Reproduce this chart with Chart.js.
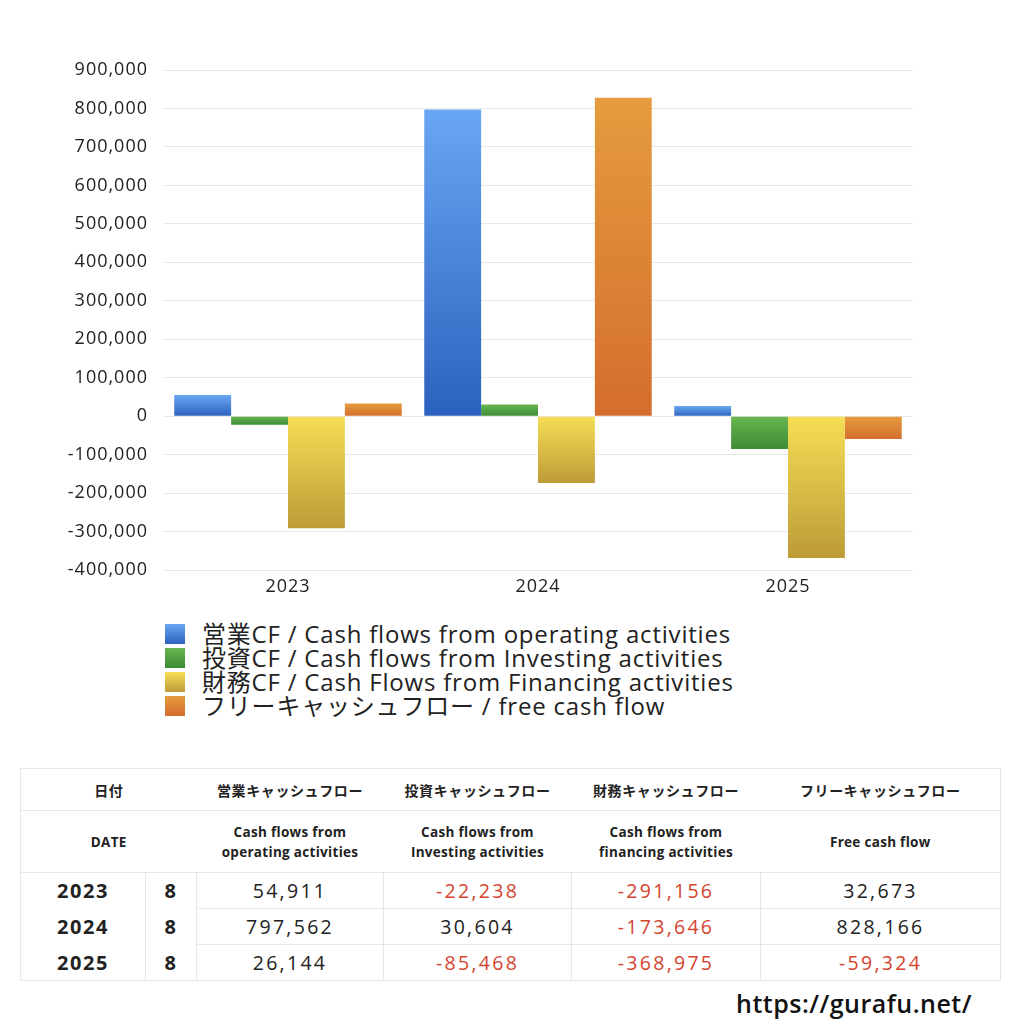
<!DOCTYPE html>
<html lang="ja">
<head>
<meta charset="utf-8">
<script src="https://cdn.jsdelivr.net/npm/chart.js@4/dist/chart.umd.min.js"></script>
<style>
  html, body { margin: 0; padding: 0; background: #fff; }
  body { width: 1024px; height: 1024px; position: relative; overflow: hidden;
         font-family: "Open Sans", "Noto Sans CJK JP", sans-serif; color: #222; }
  #wrap { position: absolute; left: 0; top: 0; width: 1024px; height: 600px; }
  #legend { position: absolute; left: 165px; top: 622px; }
  #legend .item { display: flex; align-items: center; height: 24px; font-size: 24px; line-height: 24px;
                  letter-spacing: 0.8px; color: #222; white-space: nowrap; }
  #legend .box { width: 20px; height: 20px; margin-right: 17px; flex: none; }
  table { position: absolute; left: 20px; top: 768px; width: 980px; border-collapse: collapse;
          border: 1px solid #e6e6e6; table-layout: fixed; }
  th, td { padding: 0; }
  th { font-size: 14px; font-weight: bold; color: #222; text-align: center; border-bottom: 1px solid #e6e6e6; letter-spacing: 0.6px; }
  tr.h1 th { height: 41px; }
  tr.h2 th { height: 61px; line-height: 20px; font-size: 13.5px; letter-spacing: 0.3px; }
  td { height: 35px; font-size: 19.5px; text-align: center; color: #222; letter-spacing: 2.3px; }
  td.val { border: 1px solid #e6e6e6; }
  td.yr, td.mo { font-weight: bold; font-size: 20px; letter-spacing: 1.6px; }
  td.mo { border-left: 1px solid #e6e6e6; }
  td.neg { color: #d4452f; }
  #site { position: absolute; left: 736px; top: 986px; font-size: 25px; font-weight: 600; color: #111;
          letter-spacing: 0.5px; }
</style>
</head>
<body>
<div id="wrap"><canvas id="chart" width="1024" height="600"></canvas></div>
<div id="legend"></div>
<table id="tbl"></table>
<div id="site">https://gurafu.net/</div>
<script>
const years = ['2023', '2024', '2025'];
const month = ['8', '8', '8'];
const operatingCF = [54911, 797562, 26144];
const investingCF = [-22238, 30604, -85468];
const financingCF = [-291156, -173646, -368975];
const freeCF = [32673, 828166, -59324];

const seriesNames = [
  '営業CF / Cash flows from operating activities',
  '投資CF / Cash flows from Investing activities',
  '財務CF / Cash Flows from Financing activities',
  'フリーキャッシュフロー / free cash flow'
];
const colHeads = ['営業キャッシュフロー', '投資キャッシュフロー', '財務キャッシュフロー', 'フリーキャッシュフロー'];
const colSubs = ['Cash flows from<br>operating activities', 'Cash flows from<br>Investing activities',
  'Cash flows from<br>financing activities', 'Free cash flow'];

// top / bottom colours of each bar gradient
const shades = [
  ['#69a6f3', '#2b61be'],
  ['#68b550', '#3d8a36'],
  ['#f5de55', '#bd9b38'],
  ['#e59c3e', '#d46d2e']
];

function grad(top, bottom) {
  return (ctx) => {
    const chart = ctx.chart;
    if (!chart.chartArea || ctx.type !== 'data') return top;
    const y = chart.scales.y;
    const a = y.getPixelForValue(0), b = y.getPixelForValue(ctx.raw);
    if (!isFinite(a) || !isFinite(b)) return top;
    const g = chart.ctx.createLinearGradient(0, Math.min(a, b), 0, Math.max(a, b) + 0.5);
    g.addColorStop(0, top);
    g.addColorStop(1, bottom);
    return g;
  };
}

const values = [operatingCF, investingCF, financingCF, freeCF];
const axisFont = { size: 18, family: '"Open Sans", "Noto Sans CJK JP", sans-serif' };

// wider tick lettering
const spacing = {
  id: 'spacing',
  beforeDraw: (c) => { c.ctx.letterSpacing = '1px'; }
};

const chart = new Chart(document.getElementById('chart'), {
  type: 'bar',
  data: {
    labels: years,
    datasets: values.map((v, i) => ({
      label: seriesNames[i],
      data: v,
      backgroundColor: grad(shades[i][0], shades[i][1]),
      borderWidth: 0,
      categoryPercentage: 0.91,
      barPercentage: 1.0
    }))
  },
  options: {
    responsive: false,
    animation: false,
    layout: { padding: { top: 70, right: 111, bottom: 0, left: 0 } },
    plugins: { legend: { display: false }, tooltip: { enabled: false } },
    scales: {
      x: {
        grid: { display: false, drawTicks: false },
        border: { display: false },
        ticks: { color: '#222', font: axisFont, padding: 6 },
        afterFit: (s) => { s.height = 30; }
      },
      y: {
        min: -400000,
        max: 900000,
        grid: { color: '#e9e9e9', drawTicks: false },
        border: { display: false },
        ticks: {
          stepSize: 100000,
          color: '#222',
          padding: 15,
          font: axisFont,
          callback: (v) => v.toLocaleString('en-US')
        },
        afterFit: (s) => { s.width = 163; }
      }
    }
  },
  plugins: [spacing]
});

// legend built from the chart's datasets
const lg = document.getElementById('legend');
chart.data.datasets.forEach((ds, i) => {
  const d = document.createElement('div');
  d.className = 'item';
  d.innerHTML = '<span class="box" style="background:linear-gradient(' + shades[i][0] + ',' + shades[i][1] + ')"></span>' + ds.label;
  lg.appendChild(d);
});

// table
const fmt = (n) => n.toLocaleString('en-US');
let html = '<colgroup><col style="width:125px"><col style="width:51px"><col style="width:187px"><col style="width:188px"><col style="width:189px"><col style="width:240px"></colgroup>';
html += '<tr class="h1"><th colspan="2">日付</th>' + colHeads.map(h => '<th>' + h + '</th>').join('') + '</tr>';
html += '<tr class="h2"><th colspan="2">DATE</th>' + colSubs.map(h => '<th>' + h + '</th>').join('') + '</tr>';
years.forEach((y, r) => {
  html += '<tr><td class="yr">' + y + '</td><td class="mo">' + month[r] + '</td>' +
    values.map(v => '<td class="val' + (v[r] < 0 ? ' neg' : '') + '">' + fmt(v[r]) + '</td>').join('') + '</tr>';
});
document.getElementById('tbl').innerHTML = html;
</script>
</body>
</html>
